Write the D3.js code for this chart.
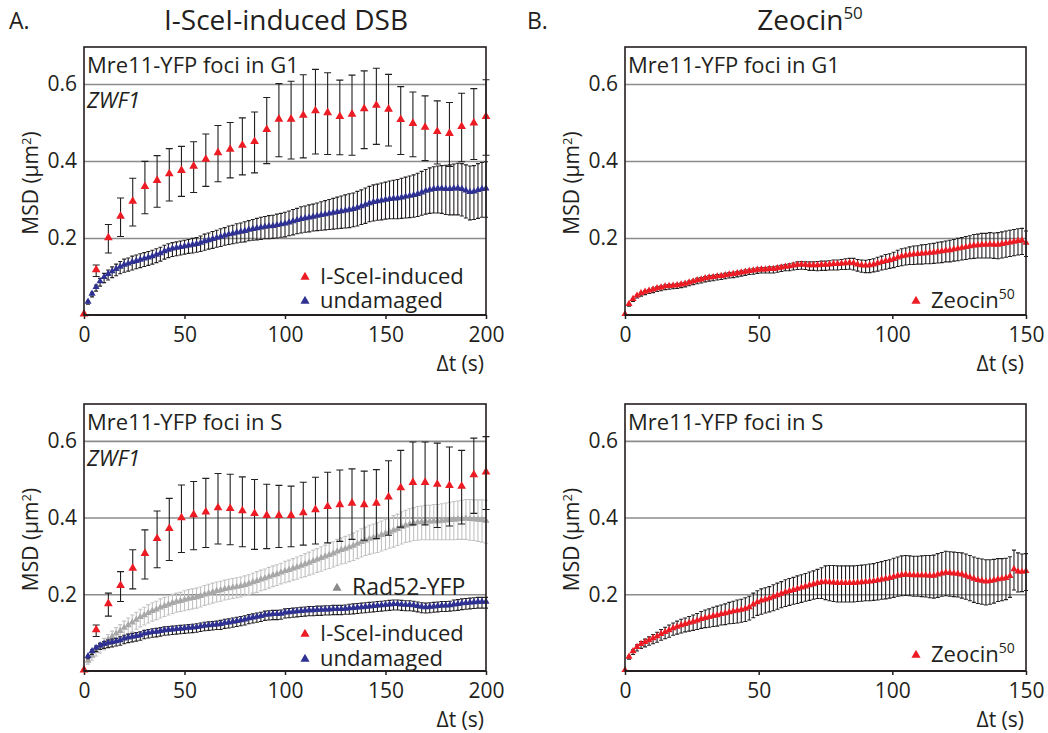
<!DOCTYPE html>
<html>
<head>
<meta charset="utf-8">
<script src="https://cdn.jsdelivr.net/npm/d3@7"></script>
<style>
  body { margin: 0; background: #fff; }
  svg text { font-family: "Open Sans", sans-serif; fill: #231f20; }
</style>
</head>
<body>
<svg id="fig" width="1048" height="733"></svg>
<script>
// ---- data ----
const yTicks = [0.2, 0.4, 0.6];
const xTicksA = [0, 50, 100, 150, 200];
const xTicksB = [0, 50, 100, 150];

// I-SceI panels, sparse red series (one point every ~6 s)
const redG1 = [0, .115, .198, .254, .293, .331, .347, .364, .373, .384, .402, .419, .428, .438, .448, .479, .506,
  .506, .516, .528, .523, .513, .519, .533, .542, .532, .505, .495, .485, .474, .469, .487, .496, .513];
const redG1Err = [0, .015, .037, .05, .062, .068, .067, .068, .065, .066, .068, .073, .072, .074, .079, .086, .095,
  .101, .108, .11, .106, .097, .104, .101, .099, .093, .088, .084, .084, .082, .083, .089, .092, .098];
const redS = [0, .105, .173, .22, .265, .304, .343, .369, .397, .405, .412, .423, .421, .415, .408, .403, .403,
  .403, .41, .418, .426, .431, .435, .431, .435, .451, .475, .489, .489, .484, .481, .479, .509, .516];
const redSErr = [0, .015, .03, .039, .051, .064, .074, .081, .088, .089, .09, .092, .092, .091, .091, .084, .081,
  .079, .082, .087, .092, .093, .092, .09, .09, .097, .1, .108, .108, .11, .103, .096, .098, .095];

// undamaged (every 2 s)
const blueG1 = [
  0, .032, .053, .070, .085, .096, .104, .111, .117, .123,
  .128, .131, .135, .138, .141, .144, .147, .150, .154, .158,
  .163, .167, .170, .172, .174, .176, .178, .180, .182, .185,
  .189, .192, .195, .198, .201, .204, .207, .209, .212, .214,
  .216, .219, .221, .223, .225, .227, .228, .229, .231, .233,
  .235, .238, .241, .244, .247, .249, .251, .253, .255, .257,
  .259, .261, .263, .265, .267, .269, .271, .273, .276, .280,
  .284, .288, .291, .293, .295, .297, .299, .300, .301, .303,
  .305, .307, .309, .312, .316, .320, .323, .325, .326, .326,
  .325, .325, .326, .327, .325, .321, .317, .318, .322, .325,
  .326];
const blueG1Err = [
  0, .004, .006, .008, .010, .012, .013, .014, .015, .016,
  .017, .017, .018, .018, .018, .018, .018, .018, .018, .018,
  .018, .018, .018, .018, .018, .018, .018, .019, .019, .020,
  .021, .021, .022, .022, .023, .023, .024, .024, .025, .025,
  .026, .026, .027, .028, .029, .029, .030, .030, .031, .031,
  .032, .032, .033, .033, .034, .034, .035, .035, .036, .037,
  .038, .039, .040, .041, .042, .043, .044, .044, .045, .045,
  .046, .046, .047, .047, .048, .048, .049, .050, .051, .052,
  .053, .054, .055, .056, .057, .058, .059, .060, .061, .062,
  .064, .065, .066, .067, .068, .069, .070, .070, .071, .071,
  .072];
const blueS = [
  0, .036, .049, .058, .064, .068, .071, .073, .075, .078,
  .082, .085, .087, .089, .091, .095, .097, .099, .100, .102,
  .104, .105, .106, .107, .108, .109, .110, .111, .112, .114,
  .116, .117, .118, .119, .120, .123, .124, .126, .128, .130,
  .132, .135, .137, .139, .141, .144, .145, .146, .146, .147,
  .150, .151, .152, .153, .154, .155, .156, .156, .157, .157,
  .158, .158, .159, .159, .159, .160, .161, .162, .163, .164,
  .165, .166, .167, .168, .169, .170, .171, .172, .172, .171,
  .170, .170, .169, .167, .165, .164, .165, .166, .167, .168,
  .168, .169, .171, .172, .174, .175, .176, .177, .178, .178,
  .178];
const blueSErr = [
  0, .004, .006, .007, .008, .009, .010, .010, .010, .011,
  .011, .011, .011, .011, .011, .011, .011, .011, .011, .011,
  .011, .011, .011, .011, .011, .011, .011, .011, .011, .011,
  .011, .011, .011, .011, .012, .012, .012, .012, .012, .012,
  .012, .012, .012, .012, .012, .012, .012, .012, .012, .012,
  .012, .012, .012, .012, .012, .012, .012, .012, .012, .012,
  .012, .012, .012, .012, .012, .012, .013, .013, .013, .013,
  .013, .013, .013, .013, .013, .013, .013, .013, .013, .013,
  .013, .013, .013, .013, .013, .013, .013, .013, .013, .013,
  .013, .013, .014, .014, .014, .014, .014, .014, .014, .014,
  .014];

// Rad52-YFP (every 2 s)
const rad52 = [
  0, .024, .037, .050, .060, .070, .079, .087, .095, .102,
  .110, .117, .124, .131, .138, .143, .149, .154, .158, .163,
  .167, .171, .175, .178, .180, .183, .186, .188, .190, .193,
  .197, .200, .203, .206, .208, .211, .213, .215, .217, .219,
  .222, .225, .229, .232, .236, .239, .243, .247, .250, .254,
  .258, .261, .265, .268, .272, .276, .280, .284, .288, .292,
  .296, .300, .304, .309, .313, .316, .320, .324, .329, .334,
  .338, .342, .345, .348, .352, .356, .360, .364, .368, .373,
  .377, .380, .383, .385, .386, .387, .387, .388, .388, .389,
  .390, .391, .392, .393, .394, .395, .394, .393, .392, .391,
  .389];
const rad52Err = [
  0, .006, .009, .011, .013, .015, .016, .017, .018, .019,
  .020, .021, .022, .022, .023, .023, .024, .024, .024, .025,
  .025, .025, .025, .025, .025, .026, .026, .026, .026, .026,
  .026, .026, .026, .026, .026, .026, .026, .026, .026, .026,
  .026, .026, .026, .027, .027, .027, .027, .027, .027, .027,
  .028, .028, .028, .029, .029, .030, .030, .031, .031, .032,
  .032, .033, .033, .034, .034, .035, .035, .036, .036, .037,
  .037, .038, .038, .039, .039, .040, .040, .041, .041, .042,
  .042, .043, .043, .044, .044, .045, .045, .046, .046, .047,
  .048, .049, .050, .050, .051, .052, .053, .053, .054, .055,
  .056];

// Zeocin50 (every 1.5 s)
const zeoG1 = [
  0, .026, .039, .048, .054, .058, .061, .064, .067, .069,
  .072, .073, .074, .075, .077, .079, .082, .085, .088, .090,
  .093, .095, .096, .098, .099, .101, .103, .104, .106, .108,
  .110, .112, .113, .115, .116, .116, .117, .117, .119, .121,
  .123, .124, .126, .128, .129, .128, .127, .127, .127, .128,
  .128, .129, .130, .130, .131, .132, .133, .132, .129, .127,
  .126, .127, .129, .132, .135, .138, .140, .143, .147, .150,
  .152, .154, .155, .156, .157, .158, .159, .160, .162, .163,
  .165, .166, .168, .170, .172, .174, .176, .178, .179, .180,
  .180, .181, .180, .180, .182, .184, .186, .188, .190, .191,
  .185];
const zeoG1Err = [
  0, .003, .004, .004, .005, .005, .005, .006, .006, .006,
  .006, .006, .006, .006, .006, .006, .006, .006, .007, .007,
  .007, .007, .007, .007, .007, .007, .007, .007, .007, .007,
  .007, .007, .007, .007, .007, .007, .008, .008, .008, .008,
  .008, .009, .009, .010, .010, .010, .011, .011, .012, .012,
  .012, .012, .013, .013, .013, .014, .014, .015, .015, .016,
  .016, .017, .017, .018, .018, .019, .019, .020, .021, .022,
  .022, .023, .024, .024, .025, .025, .026, .026, .027, .027,
  .027, .028, .028, .029, .029, .030, .030, .031, .031, .032,
  .032, .033, .033, .034, .034, .034, .034, .034, .034, .034,
  .033];
const zeoS = [
  0, .035, .049, .060, .068, .073, .078, .083, .088, .094,
  .099, .104, .109, .113, .117, .120, .123, .126, .129, .133,
  .136, .138, .141, .143, .146, .148, .151, .153, .155, .157,
  .160, .164, .171, .177, .181, .184, .187, .191, .195, .199,
  .203, .206, .209, .212, .215, .218, .221, .224, .227, .229,
  .230, .229, .228, .227, .227, .227, .227, .227, .228, .229,
  .230, .231, .232, .234, .236, .238, .240, .243, .246, .248,
  .249, .248, .247, .247, .247, .247, .246, .246, .249, .252,
  .254, .253, .252, .251, .249, .246, .242, .238, .235, .233,
  .231, .232, .234, .237, .238, .240, .245, .263, .257, .256,
  .258];
const zeoSErr = [
  0, .004, .006, .008, .009, .010, .011, .012, .013, .014,
  .015, .016, .016, .017, .018, .018, .019, .020, .021, .022,
  .023, .024, .025, .026, .026, .027, .028, .029, .030, .030,
  .031, .031, .032, .032, .033, .033, .033, .034, .034, .034,
  .035, .035, .035, .036, .036, .036, .037, .037, .038, .040,
  .044, .046, .047, .047, .047, .047, .047, .047, .047, .047,
  .047, .048, .048, .049, .049, .050, .050, .051, .051, .052,
  .052, .052, .052, .052, .053, .054, .055, .056, .057, .057,
  .058, .058, .058, .058, .059, .059, .059, .059, .059, .059,
  .059, .058, .057, .056, .055, .054, .053, .052, .051, .049,
  .048];

// sampling times
const tRed = redG1.map((d, i) => i * 200 / 33);
const t2 = blueG1.map((d, i) => i * 2);
const t15 = zeoG1.map((d, i) => i * 1.5);

const RED = '#ed1c24', BLUE = '#2e3192', GREY = '#8a8a8a', LIGHT = '#c2c2c2', INK = '#231f20';
const yTop = 0.696;

const svg = d3.select('#fig');

// headings
svg.append('text').attr('x', 9).attr('y', 29).style('font-size', '23px').text('A.');
svg.append('text').attr('x', 286).attr('y', 30).attr('text-anchor', 'middle')
  .style('font-size', '28px').text('I-SceI-induced DSB');
svg.append('text').attr('x', 527).attr('y', 29).style('font-size', '23px').text('B.');
const zt = svg.append('text').attr('x', 810).attr('y', 30).attr('text-anchor', 'middle')
  .style('font-size', '28px');
zt.append('tspan').text('Zeocin');
zt.append('tspan').attr('dy', -11).style('font-size', '17px').text('50');

function panel(box, xMax, xTicks) {
  const x = d3.scaleLinear().domain([0, xMax]).range([box.left, box.right]);
  const y = d3.scaleLinear().domain([0, yTop]).range([box.bottom, box.top]);
  const g = svg.append('g');

  // grid
  g.append('g')
    .attr('transform', `translate(${box.left},0)`)
    .call(d3.axisLeft(y).tickValues(yTicks).tickSize(-(box.right - box.left)).tickFormat(''))
    .call(a => a.select('.domain').remove())
    .call(a => a.selectAll('line').attr('stroke', '#8c8c8c').attr('stroke-width', 1.6));

  // y labels
  g.append('g')
    .attr('transform', `translate(${box.left},0)`)
    .call(d3.axisLeft(y).tickValues(yTicks).tickSize(0).tickPadding(7).tickFormat(d3.format('.1f')))
    .call(a => a.select('.domain').remove())
    .call(a => a.selectAll('text').style('font-size', '21px').attr('fill', INK));

  // x axis
  g.append('g')
    .attr('transform', `translate(0,${box.bottom})`)
    .call(d3.axisBottom(x).tickValues(xTicks).tickSize(4).tickPadding(8))
    .call(a => a.select('.domain').remove())
    .call(a => a.selectAll('line').attr('stroke', INK).attr('stroke-width', 1.5))
    .call(a => a.selectAll('text').style('font-size', '21px').attr('fill', INK));

  const yl = g.append('text')
    .attr('transform', `translate(${box.left - 46},${(box.top + box.bottom) / 2 + 2}) rotate(-90)`)
    .attr('text-anchor', 'middle').style('font-size', '21px');
  yl.append('tspan').text('MSD (µm');
  yl.append('tspan').attr('dy', -7).style('font-size', '13px').text('2');
  yl.append('tspan').attr('dy', 7).text(')');

  g.append('text').attr('x', box.right - 2).attr('y', box.bottom + 56)
    .attr('text-anchor', 'end').style('font-size', '21px').text('Δt (s)');

  const plot = g.append('g');
  const frame = () => {
    g.append('rect')
      .attr('x', box.left).attr('y', box.top)
      .attr('width', box.right - box.left).attr('height', box.bottom - box.top)
      .attr('fill', 'none').attr('stroke', INK).attr('stroke-width', 1.6);
    g.append('line')
      .attr('x1', box.left).attr('x2', box.right)
      .attr('y1', box.bottom).attr('y2', box.bottom)
      .attr('stroke', INK).attr('stroke-width', 2.2);
  };
  return {x, y, g, plot, box, frame};
}

function series(p, times, vals, errs, o) {
  const pts = vals.map((v, i) => ({t: times[i], v: v, e: errs[i]}));
  const c = o.cap;
  p.plot.append('g').selectAll('path')
    .data(pts.filter(d => d.e > 0))
    .enter().append('path')
    .attr('d', d => {
      const px = p.x(d.t), hi = p.y(d.v + d.e), lo = p.y(d.v - d.e);
      return `M${px},${hi}V${lo}M${px - c},${hi}H${px + c}M${px - c},${lo}H${px + c}`;
    })
    .attr('fill', 'none')
    .attr('stroke', o.errColor)
    .attr('stroke-width', o.errWidth || 1.1);
  p.plot.append('g').selectAll('path')
    .data(pts)
    .enter().append('path')
    .attr('d', d3.symbol().type(d3.symbolTriangle).size(o.size))
    .attr('transform', d => `translate(${p.x(d.t)},${p.y(d.v) - 1})`)
    .attr('fill', o.color);
}

function label(p, lines) {
  lines.forEach(l => {
    p.g.append('text').attr('x', p.box.left + 3).attr('y', p.box.top + l.dy)
      .style('font-size', '22px').style('font-style', l.italic ? 'italic' : 'normal')
      .text(l.text);
  });
}

function legend(p, items) {
  items.forEach(it => {
    p.g.append('path')
      .attr('d', d3.symbol().type(d3.symbolTriangle).size(36)())
      .attr('transform', `translate(${it.x},${it.y - 7})`)
      .attr('fill', it.color);
    const t = p.g.append('text').attr('x', it.x + 15).attr('y', it.y)
      .style('font-size', it.fs || '22px').attr('fill', it.textColor || INK);
    t.append('tspan').text(it.text);
    if (it.sup) t.append('tspan').attr('dy', -9).style('font-size', '14px').text(it.sup);
  });
}

// A, G1
const p1 = panel({left: 84, right: 486, top: 47, bottom: 315}, 200, xTicksA);
series(p1, t2, blueG1, blueG1Err, {color: BLUE, errColor: INK, size: 22, cap: 2});
series(p1, tRed, redG1, redG1Err, {color: RED, errColor: INK, size: 33, cap: 3.5});
p1.frame();
label(p1, [{text: 'Mre11-YFP foci in G1', dy: 26}, {text: 'ZWF1', dy: 61, italic: true}]);
legend(p1, [
  {x: 305, y: 284, color: RED, text: 'I-SceI-induced'},
  {x: 305, y: 308, color: BLUE, text: 'undamaged'}
]);

// A, S
const p2 = panel({left: 84, right: 486, top: 404, bottom: 671}, 200, xTicksA);
series(p2, t2, rad52, rad52Err, {color: '#a8a8a8', errColor: LIGHT, size: 22, cap: 2});
series(p2, t2, blueS, blueSErr, {color: BLUE, errColor: INK, size: 22, cap: 2});
series(p2, tRed, redS, redSErr, {color: RED, errColor: INK, size: 33, cap: 3.5});
p2.frame();
label(p2, [{text: 'Mre11-YFP foci in S', dy: 26}, {text: 'ZWF1', dy: 62, italic: true}]);
legend(p2, [
  {x: 337, y: 595, color: GREY, text: 'Rad52-YFP', textColor: LIGHT, fs: '23px'},
  {x: 305, y: 641, color: RED, text: 'I-SceI-induced'},
  {x: 305, y: 666, color: BLUE, text: 'undamaged'}
]);

// B, G1
const p3 = panel({left: 625, right: 1026, top: 47, bottom: 315}, 150, xTicksB);
series(p3, t15, zeoG1, zeoG1Err, {color: RED, errColor: INK, size: 22, cap: 2});
p3.frame();
label(p3, [{text: 'Mre11-YFP foci in G1', dy: 26}]);
legend(p3, [{x: 916, y: 308, color: RED, text: 'Zeocin', sup: '50'}]);

// B, S
const p4 = panel({left: 625, right: 1026, top: 404, bottom: 671}, 150, xTicksB);
series(p4, t15, zeoS, zeoSErr, {color: RED, errColor: INK, size: 22, cap: 2});
p4.frame();
label(p4, [{text: 'Mre11-YFP foci in S', dy: 26}]);
legend(p4, [{x: 916, y: 662, color: RED, text: 'Zeocin', sup: '50'}]);
</script>
</body>
</html>
